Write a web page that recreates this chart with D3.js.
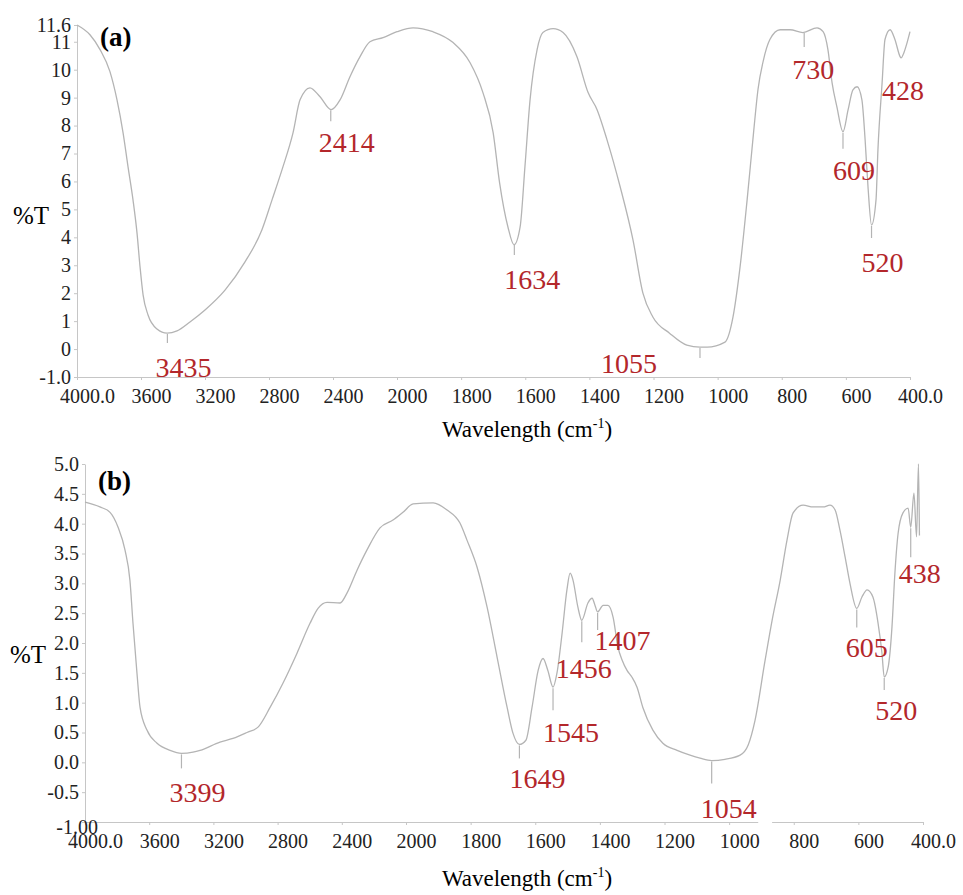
<!DOCTYPE html>
<html>
<head>
<meta charset="utf-8">
<script src="https://cdn.jsdelivr.net/npm/d3@7"></script>
<style>
body { margin: 0; background: #fff; }
svg text { font-family: "Liberation Serif", "Times New Roman", serif; }
</style>
</head>
<body>
<div id="chart"></div>
<script>
// x ticks shared by both spectra (cm-1)
var xTicks = [4000, 3600, 3200, 2800, 2400, 2000, 1800, 1600, 1400, 1200, 1000, 800, 600, 400];

// spectrum (a)
var waveA = [4000, 3919, 3856, 3794, 3750, 3712, 3681, 3650, 3625, 3606, 3587, 3556, 3500, 3437, 3375, 3294,
    3200, 3075, 2950, 2844, 2781, 2713, 2650, 2606, 2544, 2481, 2412, 2356, 2294, 2231, 2169, 2087,
    2000, 1950, 1888, 1825, 1772, 1732, 1700, 1680, 1654, 1635, 1616, 1601, 1585, 1563, 1545, 1513,
    1482, 1439, 1404, 1376, 1345, 1304, 1264, 1233, 1202, 1150, 1096, 1055, 1033, 977, 952, 930,
    908, 888, 874, 858, 837, 805, 774, 734, 690, 671, 656, 643, 628, 609, 593, 578, 565, 550, 540,
    531, 520, 506, 500, 487, 478, 462, 447, 431, 428, 419, 409, 400];
var transA = [11.6, 11.25, 10.72, 9.93, 8.92, 7.74, 6.52, 5.34, 4.16, 2.94, 1.94, 1.22, 0.72, 0.57, 0.65, 0.97,
    1.40, 2.11, 3.12, 4.27, 5.34, 6.52, 7.74, 8.92, 9.35, 9.03, 8.57, 8.92, 9.75, 10.47, 11.0, 11.15,
    11.36, 11.5, 11.36, 10.97, 10.25, 9.18, 7.74, 5.95, 4.37, 3.73, 4.37, 6.52, 8.92, 10.72, 11.33, 11.47,
    11.33, 10.47, 9.18, 8.57, 7.49, 5.81, 3.91, 2.0, 1.15, 0.57, 0.14, 0.07, 0.07, 0.25, 1.15, 2.94,
    5.34, 7.74, 9.3, 10.3, 11.08, 11.43, 11.43, 11.33, 11.5, 11.36, 10.72, 9.53, 8.67, 7.78, 8.57, 9.28, 9.39, 8.92, 7.49,
    5.81, 4.44, 5.34, 7.13, 9.53, 11.08, 11.43, 11.08, 10.47, 10.42, 10.61, 10.97, 11.36];
var peaksA = [3435, 2414, 1634, 1055, 730, 609, 520, 428];
var yTicksA = [11.6, 11, 10, 9, 8, 7, 6, 5, 4, 3, 2, 1, 0, -1];

// spectrum (b)
var waveB = [4000, 3907, 3844, 3794, 3751, 3720, 3701, 3676, 3657, 3614, 3551, 3470, 3399, 3327, 3283, 3159,
    3078, 2991, 2922, 2847, 2766, 2679, 2598, 2548, 2492, 2411, 2367, 2305, 2243, 2162, 2081, 2019,
    1978, 1916, 1873, 1833, 1811, 1780, 1749, 1718, 1687, 1669, 1649, 1629, 1610, 1591, 1576, 1561,
    1545, 1533, 1517, 1502, 1492, 1483, 1468, 1456, 1437, 1424, 1415, 1407, 1390, 1375, 1359, 1344,
    1331, 1316, 1301, 1285, 1267, 1236, 1205, 1161, 1121, 1090, 1054, 1013, 966, 941, 920, 889, 867,
    842, 821, 802, 771, 740, 709, 688, 672, 657, 641, 626, 605, 589, 573, 555, 539, 527, 520, 508,
    496, 487, 477, 462, 446, 438, 428, 420, 414, 411];
var transB = [4.36, 4.28, 4.19, 3.94, 3.56, 3.05, 2.33, 1.49, 0.92, 0.54, 0.32, 0.20, 0.15, 0.17, 0.20, 0.34,
    0.40, 0.50, 0.59, 0.92, 1.33, 1.83, 2.33, 2.58, 2.68, 2.67, 2.84, 3.22, 3.56, 3.93, 4.06, 4.19,
    4.33, 4.35, 4.23, 4.01, 3.72, 3.27, 2.60, 1.76, 0.92, 0.49, 0.30, 0.37, 0.92, 1.54, 1.74, 1.54,
    1.26, 1.49, 2.16, 2.89, 3.17, 3.05, 2.60, 2.38, 2.67, 2.75, 2.63, 2.52, 2.63, 2.63, 2.43, 1.93,
    1.71, 1.54, 1.43, 1.26, 0.92, 0.54, 0.32, 0.20, 0.12, 0.07, 0.03, 0.05, 0.12, 0.29, 0.70, 1.70, 2.38,
    3.05, 3.72, 4.18, 4.31, 4.28, 4.28, 4.31, 4.23, 3.89, 3.44, 3.00, 2.58, 2.77, 2.89, 2.77, 2.33, 1.83, 1.43, 1.59,
    2.27, 3.17, 3.84, 4.18, 4.26, 3.94, 4.51, 3.78, 5.0, 3.8];
var peaksB = [3399, 1649, 1545, 1456, 1407, 1054, 605, 520, 438];
var yTicksB = [5, 4.5, 4, 3.5, 3, 2.5, 2, 1.5, 1, 0.5, 0, -0.5, -1];

// label placement for the peak annotations: [dx, dy, tick length]
var placeA = [[16, 44, 10], [16, 43, 12], [18, 45, 11], [-71, 26, 11], [9, 47, 15], [11, 48, 17], [11, 47, 13], [2, 42, 0]];
var placeB = [[16, 49, 15], [18, 44, 14], [18, 55, 23], [2, 58, 22], [25, 38, 18], [17, 57, 23], [10, 49, 19], [12, 43, 13], [9, 56, 30]];

var serif = '"Liberation Serif", "Times New Roman", serif',
    axisColor = "#c6c6c6",
    lineColor = "#b4b4b4",
    red = "#b3272b";

var svg = d3.select("#chart")
    .append("svg")
    .attr("width", 963)
    .attr("height", 895);

function valueAt(waves, trans, w) {
    for (var i = 0; i < waves.length - 1; i++) {
        if (waves[i] >= w && waves[i + 1] <= w) {
            var t = (waves[i] - w) / (waves[i] - waves[i + 1]);
            return trans[i] + t * (trans[i + 1] - trans[i]);
        }
    }
    return trans[trans.length - 1];
}

function drawPanel(p) {
    var x = d3.scaleLinear().domain([4000, 2000, 400]).range(p.xRange);
    var y = d3.scaleLinear().domain([-1, p.yTicks[0]]).range(p.yRange);
    var g = svg.append("g");

    var xAxis = g.append("g")
        .attr("transform", "translate(0," + p.yRange[0] + ")")
        .call(d3.axisBottom(x).tickValues(xTicks).tickSize(3).tickSizeOuter(0)
            .tickFormat(function (d) { return (d === 4000 || d === 400) ? d.toFixed(1) : d; }));

    var yAxis = g.append("g")
        .attr("transform", "translate(" + p.xRange[0] + ",0)")
        .call(d3.axisLeft(y).tickValues(p.yTicks).tickSize(3).tickSizeOuter(0).tickFormat(p.yFormat));

    [xAxis, yAxis].forEach(function (a) {
        a.attr("font-family", serif);
        a.select(".domain").attr("stroke", axisColor);
        a.selectAll(".tick line").attr("stroke", axisColor);
        a.selectAll(".tick text")
            .attr("fill", "#222")
            .style("font-family", serif)
            .style("font-size", "20px");
    });
    xAxis.selectAll(".tick text").attr("y", 12).attr("dx", 10);
    if (p.lastTick) {
        yAxis.selectAll(".tick text").filter(function (d) { return d === -1; })
            .attr("dx", p.lastTick[0]).attr("dy", p.lastTick[1]);
    }

    // white gap in the axis line, as in the scanned figure
    if (p.axisGap) {
        g.append("rect")
            .attr("x", x(p.axisGap[0]))
            .attr("width", x(p.axisGap[1]) - x(p.axisGap[0]))
            .attr("y", p.yRange[0] - 2)
            .attr("height", 4)
            .attr("fill", "#fff");
    }

    var line = d3.line()
        .x(function (i) { return x(p.waves[i]); })
        .y(function (i) { return y(p.trans[i]); })
        .curve(d3.curveMonotoneX);

    g.append("path")
        .datum(d3.range(p.waves.length))
        .attr("d", line)
        .attr("fill", "none")
        .attr("stroke", lineColor)
        .attr("stroke-width", 1.3);

    p.peaks.forEach(function (w, i) {
        var px = x(w),
            py = y(valueAt(p.waves, p.trans, w)),
            pl = p.place[i];
        if (pl[2] > 0) {
            g.append("line")
                .attr("x1", px).attr("x2", px)
                .attr("y1", py + 1).attr("y2", py + pl[2])
                .attr("stroke", lineColor)
                .attr("stroke-width", 1.2);
        }
        g.append("text")
            .attr("x", px + pl[0])
            .attr("y", py + pl[1])
            .attr("text-anchor", "middle")
            .attr("fill", red)
            .style("font-family", serif)
            .style("font-size", "28px")
            .text(w);
    });

    g.append("text")
        .attr("x", p.tag[1])
        .attr("y", p.tag[2])
        .style("font-family", serif)
        .style("font-size", "27px")
        .style("font-weight", "bold")
        .text(p.tag[0]);

    g.append("text")
        .attr("x", p.yTitle[0])
        .attr("y", p.yTitle[1])
        .style("font-family", serif)
        .style("font-size", "25px")
        .text("%T");

    var title = g.append("text")
        .attr("x", 527)
        .attr("y", p.xTitleY)
        .attr("text-anchor", "middle")
        .style("font-family", serif)
        .style("font-size", "23px");
    title.append("tspan").text("Wavelength (cm");
    title.append("tspan").attr("dy", -9).style("font-size", "14px").text("-1");
    title.append("tspan").attr("dy", 9).text(")");
}

drawPanel({
    waves: waveA, trans: transA, peaks: peaksA, place: placeA,
    xRange: [77, 397, 910], yRange: [377, 25], yTicks: yTicksA,
    yFormat: function (d) { return d === -1 ? "-1.0" : d; },
    tag: ["(a)", 100, 46], yTitle: [13, 224], xTitleY: 437
});

drawPanel({
    waves: waveB, trans: transB, peaks: peaksB, place: placeB,
    xRange: [85, 406, 923], yRange: [822, 464], yTicks: yTicksB,
    yFormat: function (d) { return d === -1 ? "-1.00" : d.toFixed(1); },
    lastTick: [19, "0.55em"], axisGap: [910, 867],
    tag: ["(b)", 98, 490], yTitle: [10, 663], xTitleY: 886
});
</script>
</body>
</html>
